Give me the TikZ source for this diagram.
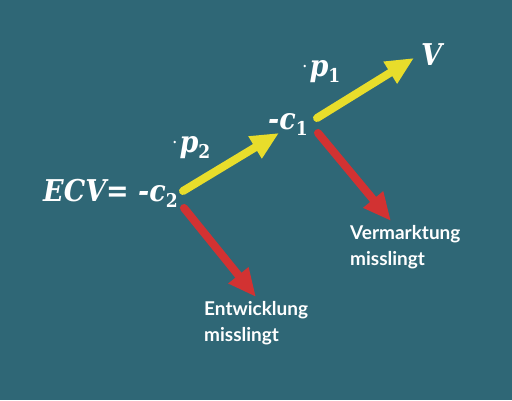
\documentclass[tikz,border=0pt]{standalone}
\usepackage{fontspec}
\setmainfont{Lato}
\newfontfamily\mf{DejaVu Serif Condensed}
\usetikzlibrary{arrows.meta}
\definecolor{bg}{RGB}{47,103,118}
\definecolor{yel}{RGB}{232,221,43}
\definecolor{rd}{RGB}{210,50,50}
\newcommand{\subsc}[1]{\raisebox{-0.2em}{\fontsize{19}{19}\selectfont\upshape #1}}
\newcommand{\dotsym}{{\fontsize{19}{19}\selectfont\upshape\mdseries\raisebox{9pt}{.}\hspace{2pt}}}
\tikzset{
  mathlab/.style={text=white, font=\mf\bfseries\itshape\fontsize{30}{32}\selectfont, inner sep=0pt},
  lab/.style={text=white, font=\bfseries\fontsize{19}{26}\selectfont, align=left, inner sep=0pt},
  yarrow/.style={draw=yel, line width=8pt, line cap=round, -{Triangle[length=28pt,width=24pt]}},
  rarrow/.style={draw=rd, line width=8pt, line cap=round, -{Triangle[length=28pt,width=24pt]}},
}
\begin{document}
\begin{tikzpicture}[x=1pt,y=-1pt]
\fill[bg] (0,0) rectangle (512,400);
\useasboundingbox (0,0) rectangle (512,400);

\node[mathlab, anchor=base west] (ecv) at (43,201) {ECV= -c\subsc{2}};
\node[mathlab, anchor=base west] (c1) at (268,129) {-c\subsc{1}};
\node[mathlab, anchor=base west] (v) at (421,65) {V};
\node[mathlab, anchor=base west] (p1) at (302,76) {\dotsym p\subsc{1}};
\node[mathlab, anchor=base west] (p2) at (172,152) {\dotsym p\subsc{2}};

\node[lab, anchor=base west] (ent) at (204,341) {Entwicklung\\misslingt};
\node[lab, anchor=base west] (ver) at (350,265) {Vermarktung\\misslingt};

\coordinate (y1s) at (183,191);
\coordinate (y1e) at (279,133);
\coordinate (y2s) at (317,118);
\coordinate (y2e) at (414,58);
\coordinate (r1s) at (184,208);
\coordinate (r1e) at (256,297);
\coordinate (r2s) at (318,133);
\coordinate (r2e) at (391,221);

\draw[yarrow] (y1s) -- (y1e);
\draw[yarrow] (y2s) -- (y2e);
\draw[rarrow] (r1s) -- (r1e);
\draw[rarrow] (r2s) -- (r2e);
\end{tikzpicture}
\end{document}
